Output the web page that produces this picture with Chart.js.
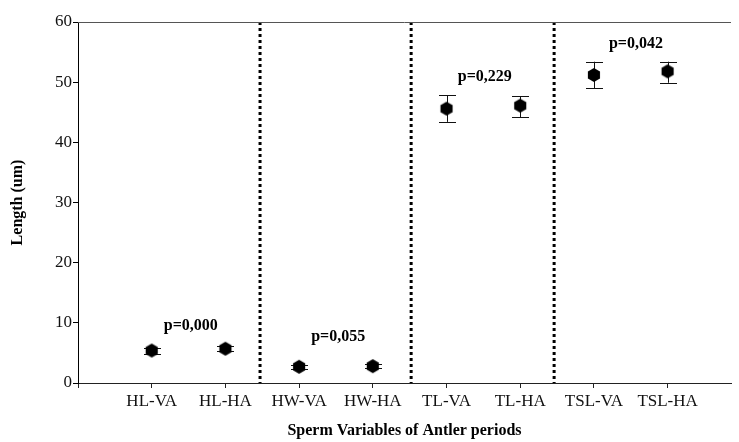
<!DOCTYPE html>
<html>
<head>
<meta charset="utf-8">
<script src="https://cdn.jsdelivr.net/npm/chart.js@4"></script>
<style>
  html, body { margin: 0; padding: 0; background: #fff; }
  #wrap { width: 739px; height: 442px; }
</style>
</head>
<body>
<div id="wrap"><canvas id="chart"></canvas></div>
<script>
// Data
const categories = ['HL-VA', 'HL-HA', 'HW-VA', 'HW-HA', 'TL-VA', 'TL-HA', 'TSL-VA', 'TSL-HA'];
const means   = [5.4, 5.7, 2.7, 2.8, 45.6, 46.1, 51.2, 51.8];
const errLow  = [4.9, 5.3, 2.4, 2.5, 43.4, 44.2, 49.0, 49.9];
const errHigh = [5.9, 6.1, 3.0, 3.1, 47.8, 47.7, 53.4, 53.4];
const yTicks = [0, 10, 20, 30, 40, 50, 60];
const pLabels = ['p=0,000', 'p=0,055', 'p=0,229', 'p=0,042'];
const pLabelX = [1.53, 3.53, 5.52, 7.57];
const pLabelY = [9.5, 7.7, 50.9, 56.4];
const dividers = [2.47, 4.52, 6.46];

const serif = '"Liberation Serif", "Times New Roman", serif';

// Hexagon marker like the original
function hexMarker(r) {
  const c = document.createElement('canvas');
  c.width = c.height = r * 2 + 2;
  const g = c.getContext('2d');
  g.beginPath();
  for (let k = 0; k < 6; k++) {
    const a = (-90 + 60 * k) * Math.PI / 180;
    const px = c.width / 2 + r * Math.cos(a);
    const py = c.height / 2 + r * Math.sin(a);
    k ? g.lineTo(px, py) : g.moveTo(px, py);
  }
  g.closePath();
  g.fillStyle = '#000';
  g.fill();
  return c;
}

// Error bars, dotted dividers, frame top line, p-values
const extras = {
  id: 'extras',
  beforeDatasetsDraw(chart) {
    const { ctx, chartArea, scales: { x, y } } = chart;
    ctx.save();
    // dotted vertical dividers
    ctx.strokeStyle = '#000';
    ctx.lineWidth = 3;
    ctx.setLineDash([3, 3]);
    dividers.forEach(v => {
      const px = x.getPixelForValue(v);
      ctx.beginPath();
      ctx.moveTo(px, chartArea.top);
      ctx.lineTo(px, chartArea.bottom);
      ctx.stroke();
    });
    ctx.setLineDash([]);
    // top frame line
    ctx.strokeStyle = '#555';
    ctx.lineWidth = 1;
    ctx.beginPath();
    ctx.moveTo(chartArea.left, chartArea.top + 0.5);
    ctx.lineTo(chartArea.right, chartArea.top + 0.5);
    ctx.stroke();
    // error bars
    ctx.strokeStyle = '#111';
    means.forEach((m, i) => {
      const px = Math.round(x.getPixelForValue(i + 1)) + 0.5;
      const lo = y.getPixelForValue(errLow[i]);
      const hi = y.getPixelForValue(errHigh[i]);
      ctx.beginPath();
      ctx.moveTo(px, lo); ctx.lineTo(px, hi);
      ctx.moveTo(px - 8.5, Math.round(lo) + 0.5); ctx.lineTo(px + 8.5, Math.round(lo) + 0.5);
      ctx.moveTo(px - 8.5, Math.round(hi) + 0.5); ctx.lineTo(px + 8.5, Math.round(hi) + 0.5);
      ctx.stroke();
    });
    ctx.restore();
  },
  afterDraw(chart) {
    const { ctx, scales: { x, y } } = chart;
    ctx.save();
    ctx.font = 'bold 16px ' + serif;
    ctx.fillStyle = '#000';
    ctx.textAlign = 'center';
    ctx.textBaseline = 'middle';
    pLabels.forEach((t, i) => {
      ctx.fillText(t, x.getPixelForValue(pLabelX[i]), y.getPixelForValue(pLabelY[i]));
    });
    ctx.restore();
  }
};

new Chart(document.getElementById('chart'), {
  type: 'scatter',
  data: {
    datasets: [{
      data: means.map((m, i) => ({ x: i + 1, y: m })),
      pointStyle: hexMarker(7),
      pointRadius: 7,
      showLine: false
    }]
  },
  options: {
    responsive: true,
    maintainAspectRatio: false,
    animation: false,
    layout: { padding: { top: 22, right: 0, left: 0, bottom: 0 } },
    plugins: { legend: { display: false }, tooltip: { enabled: false } },
    scales: {
      x: {
        type: 'linear',
        min: 0,
        max: 8.86,
        afterBuildTicks: s => { s.ticks = categories.map((c, i) => ({ value: i })).concat([{ value: 8 }]); },
        afterFit: s => { s.height = 59; },
        border: { color: '#222', width: 1 },
        grid: { drawOnChartArea: false, drawTicks: true, tickLength: 5, color: '#222' },
        ticks: {
          autoSkip: false,
          maxRotation: 0,
          padding: 3,
          color: '#111',
          font: { family: serif, size: 17 },
          callback: v => categories[v - 1] || ''
        },
        title: {
          display: true,
          text: 'Sperm Variables of Antler periods',
          color: '#000',
          font: { family: serif, size: 16, weight: 'bold' },
          padding: { top: 4, bottom: 2 }
        }
      },
      y: {
        min: 0,
        max: 60,
        afterBuildTicks: s => { s.ticks = yTicks.map(v => ({ value: v })); },
        afterFit: s => { s.width = 78; },
        border: { color: '#000', width: 1 },
        grid: { drawOnChartArea: false, drawTicks: true, tickLength: 5, color: '#000' },
        ticks: {
          padding: 1,
          color: '#111',
          font: { family: serif, size: 17 }
        },
        title: {
          display: true,
          text: 'Length (um)',
          color: '#000',
          font: { family: serif, size: 16, weight: 'bold' },
          padding: { top: 8, bottom: 0 }
        }
      }
    }
  },
  plugins: [extras]
});
</script>
</body>
</html>
